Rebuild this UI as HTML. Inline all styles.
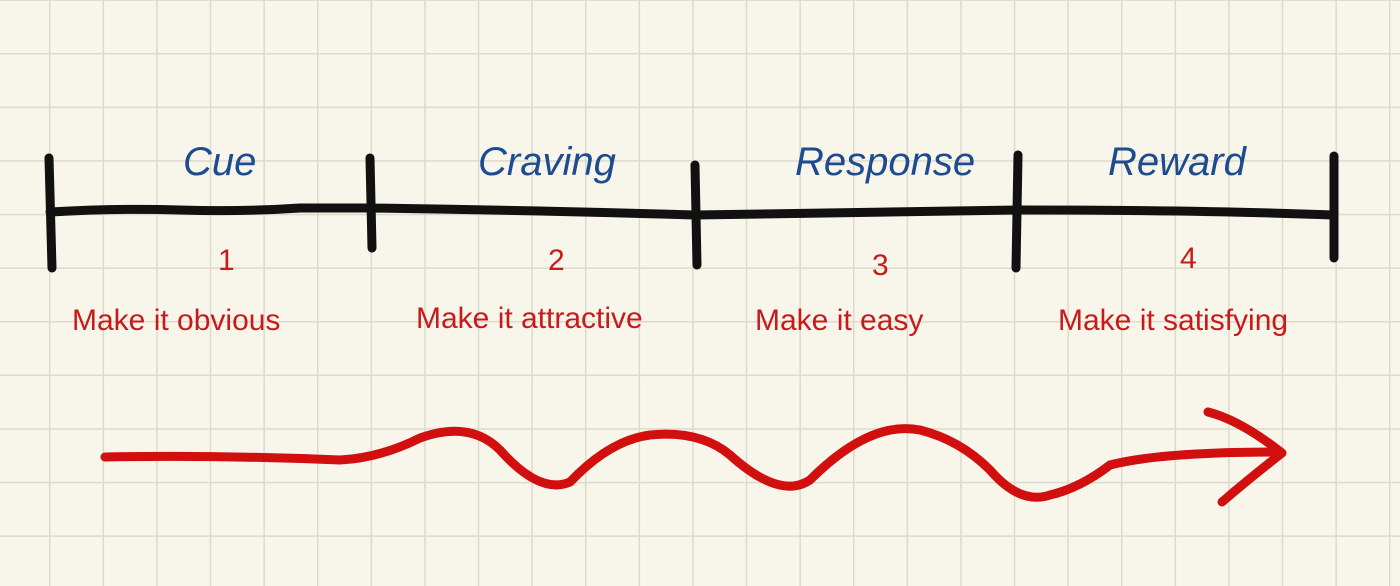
<!DOCTYPE html>
<html><head><style>
html,body{margin:0;padding:0;background:#f8f5eb;}
svg{display:block}
.b{font-family:"Liberation Sans",sans-serif;fill:#1d4b8f;font-size:40px;font-style:italic}
.r{font-family:"Liberation Sans",sans-serif;fill:#c81a1a;font-size:30px}
</style></head><body>
<svg width="1400" height="586" viewBox="0 0 1400 586" xmlns="http://www.w3.org/2000/svg">
<defs>
<pattern id="g" x="49" y="53" width="53.6" height="53.6" patternUnits="userSpaceOnUse">
<path d="M0 0V53.6M0 0H53.6" stroke="#ddd9cd" stroke-width="3" fill="none"/>
</pattern>
</defs>
<rect width="1400" height="586" fill="#f8f5eb"/>
<rect width="1400" height="586" fill="url(#g)"/>
<g stroke="#111" stroke-width="9" stroke-linecap="round" fill="none">
<path d="M50 212 Q120 208 180 210 T300 208 L370 208 Q520 210 695 215 L1018 210 Q1200 210 1334 215"/>
<path d="M49 158 L52 268"/>
<path d="M370 158 L372 248"/>
<path d="M695 165 L697 265"/>
<path d="M1018 155 L1016 268"/>
<path d="M1334 156 L1334 258"/>
</g>
<text class="b" x="183" y="175">Cue</text>
<text class="b" x="478" y="175">Craving</text>
<text class="b" x="795" y="175">Response</text>
<text class="b" x="1108" y="175">Reward</text>
<text class="r" x="218" y="270">1</text>
<text class="r" x="548" y="270">2</text>
<text class="r" x="872" y="275">3</text>
<text class="r" x="1180" y="268">4</text>
<text class="r" x="72" y="330">Make it obvious</text>
<text class="r" x="416" y="328">Make it attractive</text>
<text class="r" x="755" y="330">Make it easy</text>
<text class="r" x="1058" y="330">Make it satisfying</text>
<g stroke="#d20f0f" stroke-width="9" stroke-linecap="round" stroke-linejoin="round" fill="none">
<path d="M105 457 Q220 455 340 460 Q380 458 420 438 Q470 420 500 450 Q540 495 570 482 Q610 440 650 435 Q700 430 730 455 Q780 500 810 480 Q870 420 920 430 Q960 440 990 470 Q1020 505 1050 495 Q1080 488 1110 465 Q1160 452 1280 452"/>
<path d="M1208 412 Q1240 420 1282 453 Q1250 478 1222 502"/>
</g>
</svg>
</body></html>
